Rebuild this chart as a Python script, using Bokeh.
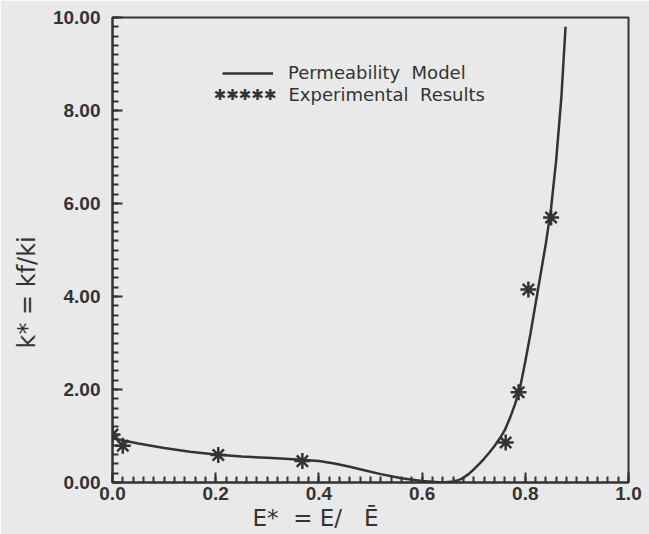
from bokeh.plotting import figure
from bokeh.models import (Range1d, NumeralTickFormatter, SingleIntervalTicker,
                          Label, Legend, LegendItem, Title)
from bokeh.embed import file_html
from bokeh.resources import INLINE

# Permeability model curve
model_x = [0.0, 0.05, 0.10, 0.15, 0.20, 0.25, 0.30, 0.35, 0.40, 0.43, 0.46,
           0.49, 0.52, 0.56, 0.60, 0.64, 0.66, 0.67, 0.68, 0.69, 0.70, 0.71,
           0.72, 0.73, 0.74, 0.75, 0.76, 0.77, 0.78, 0.79, 0.80, 0.81, 0.82,
           0.83, 0.84, 0.85, 0.86, 0.87, 0.878]
model_y = [0.95, 0.84, 0.74, 0.66, 0.60, 0.56, 0.53, 0.50, 0.46, 0.41, 0.34,
           0.26, 0.18, 0.09, 0.03, 0.0, 0.02, 0.05, 0.10, 0.18, 0.28, 0.39,
           0.51, 0.64, 0.78, 0.94, 1.12, 1.38, 1.68, 2.05, 2.6, 3.2, 3.85,
           4.5, 5.15, 5.9, 6.95, 8.3, 9.8]

# Experimental results
exp_x = [0.0, 0.02, 0.205, 0.368, 0.762, 0.787, 0.806, 0.85]
exp_y = [1.03, 0.79, 0.59, 0.46, 0.86, 1.94, 4.15, 5.7]

NB = "\u00a0"
legend_labels = ["Permeability" + NB + " Model", "Experimental" + NB + " Results"]
x_title = "E*" + NB + " = E/" + NB + NB + " Ē"
y_title = "k* = kf/ki"

BG = "#e9e9e9"
INK = "#333333"
FONT = "DejaVu Sans"

p = figure(width=649, height=534, frame_width=516, frame_height=465,
           min_border_left=112, min_border_right=21, min_border_top=17,
           min_border_bottom=52, output_backend="svg", toolbar_location=None,
           x_range=Range1d(0, 1.0), y_range=Range1d(0, 10))
p.background_fill_color = BG
p.border_fill_color = BG
p.grid.visible = False
p.outline_line_color = INK
p.outline_line_width = 2

for ax in (p.xaxis[0], p.yaxis[0]):
    ax.axis_line_color = INK
    ax.axis_line_width = 2
    ax.major_tick_in = 10
    ax.major_tick_out = 0
    ax.minor_tick_in = 6
    ax.minor_tick_out = 0
    ax.major_tick_line_color = INK
    ax.minor_tick_line_color = INK
    ax.major_tick_line_width = 2
    ax.minor_tick_line_width = 2
    ax.major_label_text_font = "Liberation Sans"
    ax.major_label_text_font_style = "bold"
    ax.major_label_text_font_size = "19px"
    ax.major_label_text_color = INK

p.xaxis[0].ticker = SingleIntervalTicker(interval=0.2, num_minor_ticks=10)
p.yaxis[0].ticker = SingleIntervalTicker(interval=2, num_minor_ticks=10)
p.xaxis[0].formatter = NumeralTickFormatter(format="0.0")
p.yaxis[0].formatter = NumeralTickFormatter(format="0.00")
p.xaxis[0].major_label_standoff = 4
p.yaxis[0].major_label_standoff = 12

line_r = p.line(model_x, model_y, line_color=INK, line_width=2.5)
star_r = p.scatter(exp_x, exp_y, marker="asterisk", size=16,
                   line_color=INK, line_width=2.5)

legend = Legend(items=[LegendItem(label=legend_labels[0], renderers=[line_r])],
                location=(110, 399), orientation="vertical",
                background_fill_alpha=0, border_line_alpha=0,
                padding=0, margin=0, spacing=1,
                glyph_width=51, glyph_height=20, label_height=20,
                label_standoff=15,
                label_text_font=FONT, label_text_font_size="18px",
                label_text_color=INK)
p.add_layout(legend, "center")

# second legend row: row of stars + label
p.add_layout(Label(x=0.196, y=8.34, text="✱✱✱✱✱", text_font=FONT,
                   text_font_size="15px", text_color=INK,
                   text_align="left", text_baseline="middle"))
p.add_layout(Label(x=0.341, y=8.34, text=legend_labels[1], text_font=FONT,
                   text_font_size="18px", text_color=INK,
                   text_align="left", text_baseline="middle"))

# axis titles
p.add_layout(Title(text=x_title, align="left", offset=140, standoff=0,
                   text_font=FONT, text_font_size="23px",
                   text_font_style="normal", text_color=INK), "below")
p.add_layout(Title(text=y_title, align="left", offset=134, standoff=18,
                   text_font=FONT, text_font_size="24px",
                   text_font_style="normal", text_color=INK), "left")

open("out.html", "w").write(file_html(p, INLINE))
